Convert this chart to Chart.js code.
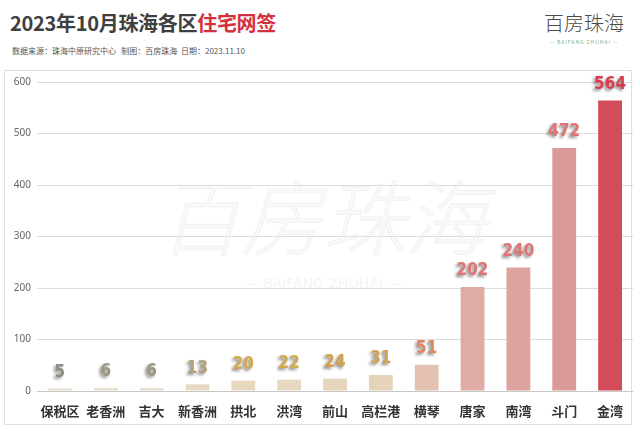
<!DOCTYPE html>
<html>
<head>
<meta charset="utf-8">
<script src="https://cdn.jsdelivr.net/npm/chart.js@4.4.0/dist/chart.umd.min.js"></script>
<style>
  body { margin: 0; width: 640px; height: 431px; background: #fff; font-family: "Noto Sans CJK SC", sans-serif; overflow: hidden; position: relative; }
  #titulo { position: absolute; left: 10px; top: 8px; font-size: 20px; font-weight: bold; color: #404040; letter-spacing: -0.3px; white-space: nowrap; }
  #titulo span { color: #d3313d; }
  #fonte { position: absolute; left: 12px; top: 45px; font-size: 8px; color: #555; white-space: nowrap; }
  #logo { position: absolute; left: 536px; top: 10px; width: 96px; text-align: center; white-space: nowrap; }
  #logo .nome { font-size: 20px; line-height: 26px; color: #4a4a4a; font-weight: 300; letter-spacing: 0px; }
  #logo .sub { font-size: 5px; color: #7bb08a; letter-spacing: 1px; margin-top: 2px; }
  #painel { position: absolute; left: 4px; top: 70px; width: 628px; height: 355px; border: 1px solid #dedede; box-sizing: border-box; }
  #caixa { position: absolute; left: 5px; top: 70px; width: 628px; height: 355px; }
</style>
</head>
<body>
<div id="titulo">2023年10月珠海各区<span>住宅网签</span></div>
<div id="fonte">数据来源：珠海中原研究中心 &nbsp; 制图：百房珠海 &nbsp;日期：2023.11.10</div>
<div id="logo"><div class="nome">百房珠海</div><div class="sub">— BAIFANG ZHUHAI —</div></div>
<div id="painel"></div>
<div id="caixa"><canvas id="grafico" width="628" height="355"></canvas></div>
<script>
const regioes = ['保税区', '老香洲', '吉大', '新香洲', '拱北', '洪湾', '前山', '高栏港', '横琴', '唐家', '南湾', '斗门', '金湾']
const vendas = [5, 6, 6, 13, 20, 22, 24, 31, 51, 202, 240, 472, 564]
const coresBarra = ['#e9dfcd', '#e9dfcd', '#e9dfcd', '#e7dac4', '#e7d8c0', '#e7d8c0', '#e6d6be', '#e5d3bc', '#e3c2b1', '#dfaba4', '#dda49f', '#db9a99', '#d34c59']
const coresRotulo = ['#8d8d85', '#9a9680', '#9a9680', '#b0a07a', '#d3a94e', '#d3a94e', '#d3a04e', '#d0a050', '#e0865e', '#e07474', '#e07474', '#e07474', '#d83c4c']
const ticksY = [0, 100, 200, 300, 400, 500, 600]

const marcaDagua = {
  id: 'marcaDagua',
  beforeDatasetsDraw(chart) {
    const ctx = chart.ctx
    ctx.save()
    ctx.textAlign = 'center'
    ctx.textBaseline = 'middle'
    ctx.font = '300 italic 82px "Noto Sans CJK SC"'
    ctx.fillStyle = 'rgba(240,244,241,0.45)'
    ctx.strokeStyle = 'rgba(210,210,210,0.25)'
    ctx.lineWidth = 1
    ctx.fillText('百房珠海', 318, 148)
    ctx.strokeText('百房珠海', 318, 148)
    ctx.font = '14px "DejaVu Sans"'
    ctx.fillStyle = 'rgba(210,210,210,0.25)'
    ctx.fillText('— BAIFANG ZHUHAI —', 318, 214)
    ctx.restore()
  }
}

const rotulos = {
  id: 'rotulos',
  afterDatasetsDraw(chart) {
    const ctx = chart.ctx
    const meta = chart.getDatasetMeta(0)
    ctx.save()
    ctx.textAlign = 'center'
    ctx.textBaseline = 'middle'
    ctx.font = 'bold 17px "DejaVu Sans Condensed"'
    meta.data.forEach(function(barra, i) {
      ctx.shadowColor = 'rgba(0,0,0,0.45)'
      ctx.shadowBlur = 3
      ctx.shadowOffsetX = -2
      ctx.shadowOffsetY = 2
      ctx.fillStyle = coresRotulo[i]
      ctx.fillText(String(vendas[i]), barra.x, barra.y - 16)
    })
    ctx.restore()
  }
}

new Chart(document.getElementById('grafico').getContext('2d'), {
  type: 'bar',
  data: {
    labels: regioes,
    datasets: [{
      data: vendas,
      backgroundColor: coresBarra,
      barPercentage: 0.52,
      categoryPercentage: 1
    }]
  },
  options: {
    responsive: false,
    animation: false,
    layout: { padding: { top: 9, right: 0 } },
    plugins: { legend: { display: false }, tooltip: { enabled: false } },
    scales: {
      x: {
        grid: { display: false },
        border: { color: '#c8c8c8' },
        ticks: { color: '#333', font: { size: 13, weight: 'bold', family: '"Noto Sans CJK SC"' }, padding: 4, maxRotation: 0, autoSkip: false },
        afterFit: function(escala) { escala.height = 34 }
      },
      y: {
        min: 0,
        max: 600,
        afterBuildTicks: function(escala) { escala.ticks = ticksY.map(function(v) { return { value: v } }) },
        grid: { color: '#dcdcdc', drawTicks: false },
        border: { display: false },
        ticks: { color: '#666', font: { size: 10, family: '"Noto Sans"' }, padding: 6 },
        afterFit: function(escala) { escala.width = 32 }
      }
    }
  },
  plugins: [marcaDagua, rotulos]
})
</script>
</body>
</html>
